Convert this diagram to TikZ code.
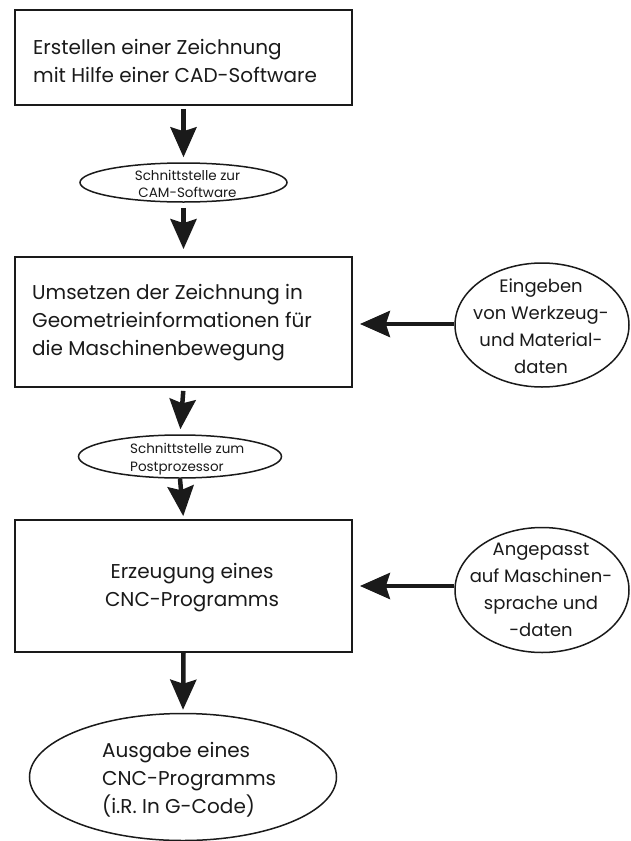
\documentclass[tikz,border=0pt]{standalone}
\usepackage{fontspec}
\setmainfont{Poppins}
\usetikzlibrary{shapes.geometric,arrows.meta}
\definecolor{ink}{HTML}{1A1A1A}
\begin{document}
\begin{tikzpicture}[x=1pt,y=-1pt,
  box/.style={draw=ink, line width=1.8pt, rectangle, minimum width=337pt, inner sep=0pt},
  oval/.style={draw=ink, line width=1.5pt, ellipse, inner sep=0pt},
  txt/.style={font=\fontsize{20}{28}\selectfont, text=ink, inner sep=0pt},
  side/.style={font=\fontsize{18}{27}\selectfont, text=ink, inner sep=0pt},
  small/.style={font=\fontsize{13.5}{17.5}\selectfont, text=ink, inner sep=0pt},
  arr/.style={draw=ink, line width=4.5pt, -{Stealth[length=30pt,width=26pt,inset=4pt]}},
]
\useasboundingbox (0,0) rectangle (630,841);
\fill[white] (0,0) rectangle (630,841);

% boxes
\node[box, minimum height=95pt] (b1) at (183.5,57.5) {};
\node[txt, align=left, anchor=west] (b1t) at (33,61) {Erstellen einer Zeichnung\\mit Hilfe einer CAD-Software};
\node[box, minimum height=130pt] (b2) at (183.5,322) {};
\node[txt, align=left, anchor=west] (b2t) at (32,323) {Umsetzen der Zeichnung in\\Geometrieinformationen für\\die Maschinenbewegung};
\node[box, minimum height=132pt] (b3) at (183.5,586) {};
\node[txt, align=center] (b3t) at (192,588) {Erzeugung eines\\CNC-Programms};

% small interface ellipses
\node[oval, minimum width=207pt, minimum height=39pt] (e1) at (183.5,182.5) {};
\node[small, align=center] (e1t) at (187.5,184) {Schnittstelle zur\\CAM-Software};
\node[oval, minimum width=203pt, minimum height=43pt] (e2) at (180,456.5) {};
\node[small, align=left, anchor=west] (e2t) at (130,459) {Schnittstelle zum\\Postprozessor};

% right side ellipses
\node[oval, minimum width=174pt, minimum height=124pt] (r1) at (542,325) {};
\node[side, align=center] (r1t) at (541,326) {Eingeben\\von Werkzeug-\\und Material-\\daten};
\node[oval, minimum width=174pt, minimum height=125pt] (r2) at (542,590) {};
\node[side, align=center] (r2t) at (541,590) {Angepasst\\auf Maschinen-\\sprache und\\-daten};

% output ellipse
\node[oval, minimum width=307pt, minimum height=127pt] (out) at (183,777) {};
\node[txt, align=left, anchor=west] (outt) at (102,780) {Ausgabe eines\\CNC-Programms\\(i.R. In G-Code)};

% arrows
\draw[arr, shorten <=3pt, shorten >=5pt] (b1.south) -- (e1.north);
\draw[arr, shorten <=5pt, shorten >=7pt] (e1.south) -- (b2.north);
\draw[arr, shorten <=3pt, shorten >=5pt] (b2.south) -- (e2.north);
\draw[arr, shorten <=0pt, shorten >=3pt] (e2.south) -- (b3.north);
\draw[arr, shorten <=0pt, shorten >=3pt] (b3.south) -- (out.north);
\draw[arr, shorten >=7pt] (r1.west |- 0,324) coordinate (r1a) -- (b2.east |- r1a);
\draw[arr, shorten >=7pt] (r2.west |- 0,586) coordinate (r2a) -- (b3.east |- r2a);
\end{tikzpicture}
\end{document}
